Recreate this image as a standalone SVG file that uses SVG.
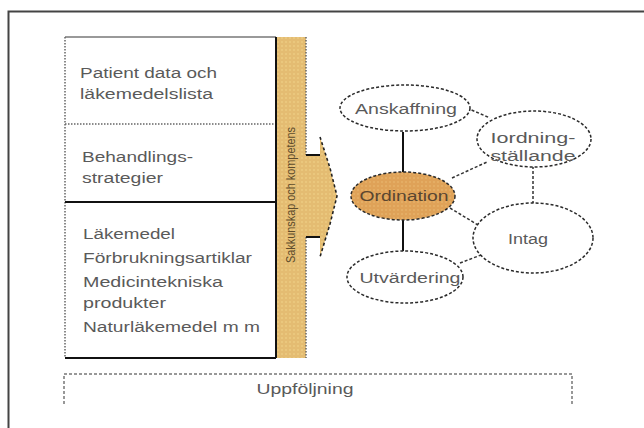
<svg xmlns="http://www.w3.org/2000/svg" width="644" height="428" viewBox="0 0 644 428">
<defs>
<pattern id="dots" width="4" height="4" patternUnits="userSpaceOnUse">
<rect width="4" height="4" fill="#E4BC72"/>
<circle cx="2" cy="2" r="0.8" fill="#F2D68A"/>
</pattern>
<pattern id="dots2" width="4" height="4" patternUnits="userSpaceOnUse">
<rect width="4" height="4" fill="#DFA258"/>
<circle cx="2" cy="2" r="0.8" fill="#ECBB74"/>
</pattern>
</defs>
<style>
.t{font-family:"Liberation Sans",Arial,sans-serif;font-size:14px;fill:#5a5a5a}
.c{text-anchor:middle}
.ell{fill:#fff;stroke:#2a2a2a;stroke-width:1.5;stroke-dasharray:3 2}
.dash{stroke:#333;stroke-width:1.5;stroke-dasharray:3 2;fill:none}
.solid{stroke:#111;stroke-width:2;fill:none}
.dot{stroke:#666;stroke-width:1.5;stroke-dasharray:1.5 1.5;fill:none}
</style>
<rect width="644" height="428" fill="#fff"/>
<path d="M8.5,428 V11.5 H644" fill="none" stroke="#444" stroke-width="2"/>

<g id="left-box">
<rect x="65" y="37" width="211" height="321" fill="#fff"/>
<path d="M65,37 H276" stroke="#777" stroke-width="1.5"/>
<path class="dot" d="M65,37 V358"/>
<path class="dot" d="M65,124 H276"/>
<path class="solid" d="M65,202 H276"/>
<path class="solid" d="M65,358 H276"/>
<path class="solid" d="M276,37 V358"/>
<text class="t" x="80" y="78" textLength="137" lengthAdjust="spacingAndGlyphs">Patient data och</text>
<text class="t" x="80" y="99" textLength="133" lengthAdjust="spacingAndGlyphs">läkemedelslista</text>
<text class="t" x="82" y="162" textLength="111" lengthAdjust="spacingAndGlyphs">Behandlings-</text>
<text class="t" x="82" y="183" textLength="81" lengthAdjust="spacingAndGlyphs">strategier</text>
<text class="t" x="83" y="239" textLength="92" lengthAdjust="spacingAndGlyphs">Läkemedel</text>
<text class="t" x="83" y="263" textLength="169" lengthAdjust="spacingAndGlyphs">Förbrukningsartiklar</text>
<text class="t" x="83" y="287" textLength="140" lengthAdjust="spacingAndGlyphs">Medicintekniska</text>
<text class="t" x="83" y="308" textLength="83" lengthAdjust="spacingAndGlyphs">produkter</text>
<text class="t" x="83" y="332" textLength="177" lengthAdjust="spacingAndGlyphs">Naturläkemedel m m</text>
</g>

<g id="bar">
<path d="M277,37 H306 V155 H320 L320,137 L330,168 L337,196 L330,224 L320,257 L320,237 H306 V358 H277 Z" fill="url(#dots)"/>
<path class="dot" d="M306,37 V155"/>
<path class="dot" d="M306,237 V358"/>
<path d="M306,155 H320 M306,237 H320" stroke="#111" stroke-width="1.8"/>
<path d="M320,137 L330,168 L337,196 L330,224 L320,257" fill="none" stroke="#222" stroke-width="1.6" stroke-dasharray="3 2.5"/>
<text class="t c" transform="translate(295,195) rotate(-90)" style="font-size:12px;fill:#5e4c2c" textLength="136" lengthAdjust="spacingAndGlyphs">Sakkunskap och kompetens</text>
</g>

<g id="connectors">
<path class="solid" d="M403,132 V173"/>
<path class="solid" d="M403,220 V251"/>
<path class="dash" d="M467,108 L490,118"/>
<path class="dash" d="M452,178 L487,162"/>
<path class="dash" d="M533,166 V203"/>
<path class="dash" d="M450,208 L478,225"/>
<path class="dash" d="M460,263 L481,255"/>
</g>

<g id="anskaffning">
<ellipse class="ell" cx="405" cy="108" rx="65" ry="23"/>
<text class="t c" x="406" y="114" textLength="102" lengthAdjust="spacingAndGlyphs">Anskaffning</text>
</g>
<g id="iordningstallande">
<ellipse class="ell" cx="534" cy="139" rx="57" ry="28"/>
<text class="t c" x="533" y="143" textLength="85" lengthAdjust="spacingAndGlyphs">Iordning-</text>
<text class="t c" x="533" y="161" textLength="85" lengthAdjust="spacingAndGlyphs">ställande</text>
</g>
<g id="ordination">
<ellipse cx="403" cy="196" rx="52" ry="24" fill="url(#dots2)" stroke="#2a2a2a" stroke-width="1.5" stroke-dasharray="3 2"/>
<text class="t c" x="404" y="201" textLength="89" lengthAdjust="spacingAndGlyphs" style="fill:#5a4630">Ordination</text>
</g>
<g id="intag">
<ellipse class="ell" cx="533" cy="238" rx="60" ry="35"/>
<text class="t c" x="528" y="244" textLength="40" lengthAdjust="spacingAndGlyphs">Intag</text>
</g>
<g id="utvardering">
<ellipse class="ell" cx="405" cy="277" rx="58" ry="26"/>
<text class="t c" x="410" y="283" textLength="101" lengthAdjust="spacingAndGlyphs">Utvärdering</text>
</g>

<g id="uppfoljning">
<path d="M64,404 V374 H572 V404" fill="none" stroke="#777" stroke-width="1.5" stroke-dasharray="3 2"/>
<text class="t c" x="305" y="394" textLength="97" lengthAdjust="spacingAndGlyphs">Uppföljning</text>
</g>
</svg>
